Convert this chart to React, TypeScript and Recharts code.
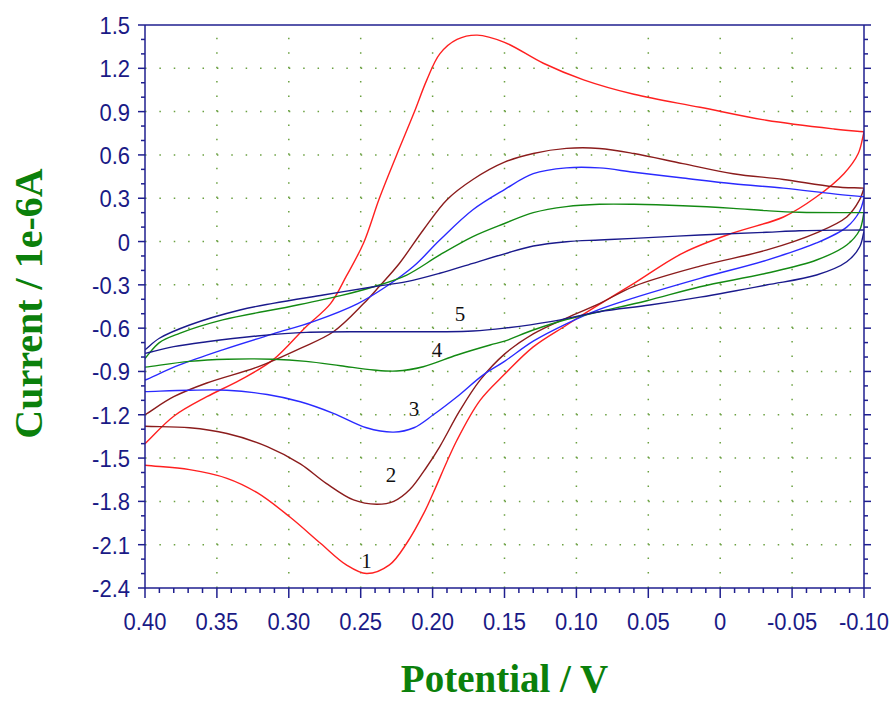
import React from "react";
import { LineChart, Line, XAxis, YAxis, ReferenceLine, ReferenceDot, Label } from "recharts";

// potential (V) / current (1e-6 A) pairs
// forward scan 0.40 -> -0.10, then the return scan -0.10 -> 0.40
const curve1Fwd: [number, number][] = [
  [0.4, -1.55], [0.369, -1.58], [0.343, -1.64], [0.322, -1.74], [0.299, -1.91],
  [0.278, -2.09], [0.26, -2.24], [0.246, -2.3], [0.23, -2.24], [0.218, -2.09],
  [0.206, -1.88], [0.1995, -1.74], [0.183, -1.375], [0.167, -1.1], [0.15, -0.92],
  [0.13, -0.73], [0.107, -0.58], [0.088, -0.46], [0.06, -0.29], [0.026, -0.08],
  [-0.009, 0.06], [-0.044, 0.17], [-0.067, 0.31], [-0.086, 0.47], [-0.096, 0.61],
  [-0.1, 0.76],
];
const curve1Rev: [number, number][] = [
  [-0.1, 0.76], [-0.079, 0.78], [-0.032, 0.84], [0.014, 0.93], [0.06, 1.02],
  [0.095, 1.12], [0.123, 1.235], [0.15, 1.38], [0.169, 1.43], [0.183, 1.4],
  [0.195, 1.3], [0.204, 1.12], [0.213, 0.89], [0.225, 0.6], [0.237, 0.3],
  [0.248, -0.01], [0.26, -0.24], [0.271, -0.43], [0.288, -0.59], [0.311, -0.82],
  [0.334, -0.96], [0.357, -1.075], [0.38, -1.21], [0.4, -1.4],
];
const curve2Fwd: [number, number][] = [
  [0.4, -1.28], [0.369, -1.29], [0.343, -1.33], [0.315, -1.42], [0.292, -1.54],
  [0.274, -1.675], [0.255, -1.79], [0.239, -1.82], [0.227, -1.8], [0.216, -1.72],
  [0.204, -1.56], [0.195, -1.42], [0.181, -1.17], [0.167, -0.96], [0.15, -0.78],
  [0.13, -0.64], [0.107, -0.53], [0.084, -0.43], [0.06, -0.31], [0.014, -0.17],
  [-0.032, -0.06], [-0.067, 0.06], [-0.088, 0.17], [-0.097, 0.29], [-0.1, 0.37],
];
const curve2Rev: [number, number][] = [
  [-0.1, 0.37], [-0.079, 0.38], [-0.044, 0.43], [-0.009, 0.47], [0.026, 0.54],
  [0.06, 0.61], [0.084, 0.645], [0.107, 0.645], [0.13, 0.61], [0.15, 0.55],
  [0.172, 0.43], [0.19, 0.29], [0.2065, 0.08], [0.223, -0.15], [0.237, -0.31],
  [0.248, -0.43], [0.269, -0.625], [0.292, -0.74], [0.322, -0.87], [0.357, -0.98],
  [0.38, -1.075], [0.4, -1.2],
];
const curve3Fwd: [number, number][] = [
  [0.4, -1.04], [0.369, -1.03], [0.343, -1.03], [0.315, -1.06], [0.292, -1.11],
  [0.269, -1.19], [0.246, -1.29], [0.227, -1.32], [0.213, -1.29], [0.1995, -1.2],
  [0.183, -1.075], [0.165, -0.925], [0.15, -0.83], [0.13, -0.69], [0.107, -0.57],
  [0.084, -0.47], [0.06, -0.39], [0.014, -0.255], [-0.032, -0.13], [-0.067, -0.01],
  [-0.088, 0.1], [-0.097, 0.21], [-0.1, 0.3],
];
const curve3Rev: [number, number][] = [
  [-0.1, 0.31], [-0.079, 0.33], [-0.044, 0.37], [-0.009, 0.4], [0.026, 0.44],
  [0.06, 0.48], [0.084, 0.51], [0.107, 0.51], [0.13, 0.47], [0.15, 0.36],
  [0.172, 0.22], [0.195, 0.01], [0.213, -0.17], [0.232, -0.31], [0.252, -0.43],
  [0.283, -0.555], [0.311, -0.64], [0.346, -0.75], [0.376, -0.855], [0.4, -0.96],
];
const curve4Fwd: [number, number][] = [
  [0.4, -0.87], [0.369, -0.83], [0.343, -0.815], [0.311, -0.815], [0.288, -0.83],
  [0.264, -0.86], [0.241, -0.89], [0.225, -0.897], [0.2065, -0.867], [0.183, -0.786],
  [0.16, -0.717], [0.15, -0.69], [0.13, -0.613], [0.107, -0.54], [0.084, -0.486],
  [0.051, -0.41], [0.014, -0.313], [-0.032, -0.22], [-0.067, -0.128], [-0.088, -0.024],
  [-0.097, 0.08], [-0.1, 0.2],
];
const curve4Rev: [number, number][] = [
  [-0.1, 0.2], [-0.055, 0.203], [-0.032, 0.214], [-0.009, 0.23], [0.026, 0.248],
  [0.06, 0.258], [0.084, 0.258], [0.107, 0.242], [0.13, 0.2], [0.15, 0.125],
  [0.172, 0.034], [0.195, -0.093], [0.218, -0.232], [0.241, -0.313], [0.264, -0.375],
  [0.299, -0.45], [0.346, -0.543], [0.376, -0.636], [0.39, -0.7], [0.4, -0.81],
];
const curve5Fwd: [number, number][] = [
  [0.4, -0.775], [0.38, -0.728], [0.357, -0.694], [0.322, -0.654], [0.288, -0.629],
  [0.241, -0.625], [0.195, -0.625], [0.172, -0.62], [0.15, -0.6], [0.118, -0.555],
  [0.084, -0.486], [0.049, -0.44], [0.014, -0.385], [-0.032, -0.301], [-0.067, -0.232],
  [-0.088, -0.14], [-0.097, -0.036], [-0.1, 0.07],
];
const curve5Rev: [number, number][] = [
  [-0.1, 0.08], [-0.055, 0.075], [-0.032, 0.064], [0.014, 0.045], [0.06, 0.022],
  [0.084, 0.011], [0.107, -0.001], [0.13, -0.031], [0.15, -0.085], [0.172, -0.151],
  [0.195, -0.22], [0.218, -0.278], [0.241, -0.313], [0.276, -0.37], [0.311, -0.428],
  [0.334, -0.474], [0.369, -0.578], [0.39, -0.67], [0.4, -0.75],
];

const curveColors = ["#ff2020", "#8b1c1c", "#2a2aff", "#138a13", "#1a1a8c"];
const curveScans = [
  [curve1Fwd, curve1Rev],
  [curve2Fwd, curve2Rev],
  [curve3Fwd, curve3Rev],
  [curve4Fwd, curve4Rev],
  [curve5Fwd, curve5Rev],
];

// curve number labels
const curveNames = ["1", "2", "3", "4", "5"];
const curveLabelV = [0.246, 0.229, 0.213, 0.197, 0.181];
const curveLabelI = [-2.21, -1.62, -1.16, -0.75, -0.505];

// axes
const xMajor = [0.4, 0.35, 0.3, 0.25, 0.2, 0.15, 0.1, 0.05, 0, -0.05, -0.1];
const xTickLabels = ["0.40", "0.35", "0.30", "0.25", "0.20", "0.15", "0.10", "0.05", "0", "-0.05", "-0.10"];
const yMajor = [1.5, 1.2, 0.9, 0.6, 0.3, 0, -0.3, -0.6, -0.9, -1.2, -1.5, -1.8, -2.1, -2.4];
const yTickLabels = ["1.5", "1.2", "0.9", "0.6", "0.3", "0", "-0.3", "-0.6", "-0.9", "-1.2", "-1.5", "-1.8", "-2.1", "-2.4"];
const xMinor = Array.from({ length: 51 }, (_, k) => (40 - k) / 100);
const yMinor = Array.from({ length: 40 }, (_, k) => (15 - k) / 10);

const AXIS = "#1f1f8f";
const TICK_TEXT = "#1a1a86";
const TITLE = "#0b800b";
const GRID = "#6aa040";
const SANS = "Liberation Sans, Arial, sans-serif";
const SERIF = "Liberation Serif, Times New Roman, serif";

// centripetal catmull-rom, so the steep parts of each scan stay smooth
function catmullRom(ctx: any) {
  let pts: number[][] = [];
  return {
    areaStart() {},
    areaEnd() {},
    lineStart() {
      pts = [];
    },
    point(x: number, y: number) {
      pts.push([+x, +y]);
    },
    lineEnd() {
      if (!pts.length) return;
      ctx.moveTo(pts[0][0], pts[0][1]);
      for (let k = 0; k < pts.length - 1; k++) {
        const p0 = pts[k - 1] || pts[k];
        const p1 = pts[k];
        const p2 = pts[k + 1];
        const p3 = pts[k + 2] || pts[k + 1];
        const d01 = Math.hypot(p1[0] - p0[0], p1[1] - p0[1]);
        const d12 = Math.hypot(p2[0] - p1[0], p2[1] - p1[1]);
        const d23 = Math.hypot(p3[0] - p2[0], p3[1] - p2[1]);
        const l01a = Math.sqrt(d01), l12a = Math.sqrt(d12), l23a = Math.sqrt(d23);
        let c1x = p1[0], c1y = p1[1], c2x = p2[0], c2y = p2[1];
        if (l01a > 1e-6) {
          const a = 2 * d01 + 3 * l01a * l12a + d12;
          const n = 3 * l01a * (l01a + l12a);
          c1x = (p1[0] * a - p0[0] * d12 + p2[0] * d01) / n;
          c1y = (p1[1] * a - p0[1] * d12 + p2[1] * d01) / n;
        } else {
          c1x = p1[0] + (p2[0] - p1[0]) / 3;
          c1y = p1[1] + (p2[1] - p1[1]) / 3;
        }
        if (l23a > 1e-6) {
          const b = 2 * d23 + 3 * l23a * l12a + d12;
          const m = 3 * l23a * (l23a + l12a);
          c2x = (p2[0] * b + p1[0] * d23 - p3[0] * d12) / m;
          c2y = (p2[1] * b + p1[1] * d23 - p3[1] * d12) / m;
        } else {
          c2x = p2[0] - (p2[0] - p1[0]) / 3;
          c2y = p2[1] - (p2[1] - p1[1]) / 3;
        }
        ctx.bezierCurveTo(c1x, c1y, c2x, c2y, p2[0], p2[1]);
      }
    },
  };
}

const findIdx = (arr: number[], v: number) => arr.findIndex((m) => Math.abs(m - v) < 1e-6);

function XTick(props: any) {
  const { x, y, payload, side } = props;
  const idx = findIdx(xMajor, payload.value);
  const len = idx >= 0 ? 10 : 5;
  const dir = side === "bottom" ? 1 : -1;
  return (
    <g>
      <line x1={x} y1={y} x2={x} y2={y + dir * len} stroke={AXIS} strokeWidth={1.5} />
      {idx >= 0 && side === "bottom" && (
        <text transform={`translate(${x},${y + 42}) scale(1,1.12)`} textAnchor="middle"
          fill={TICK_TEXT} fontSize={22} fontFamily={SANS}>
          {xTickLabels[idx]}
        </text>
      )}
    </g>
  );
}

function YTick(props: any) {
  const { x, y, payload, side } = props;
  const idx = findIdx(yMajor, payload.value);
  const len = idx >= 0 ? 7 : 4;
  const dir = side === "left" ? -1 : 1;
  return (
    <g>
      <line x1={x} y1={y} x2={x + dir * len} y2={y} stroke={AXIS} strokeWidth={1.5} />
      {idx >= 0 && side === "left" && (
        <text transform={`translate(${x - 15},${y + 9}) scale(1,1.12)`} textAnchor="end"
          fill={TICK_TEXT} fontSize={22} fontFamily={SANS}>
          {yTickLabels[idx]}
        </text>
      )}
    </g>
  );
}

export default function App() {
  return (
    <div style={{ position: "absolute", left: 0, top: 0, width: 894, height: 701, background: "#fff" }}>
      <LineChart width={894} height={701} margin={{ top: 13, right: 18, bottom: 73, left: 85 }}>
        <XAxis
          dataKey="v"
          type="number"
          domain={[-0.1, 0.4]}
          reversed
          allowDataOverflow
          ticks={xMinor}
          interval={0}
          height={40}
          tickSize={0}
          tickMargin={0}
          stroke={AXIS}
          strokeWidth={1.5}
          tick={(p: any) => <XTick {...p} side="bottom" />}
        >
          <Label
            content={({ viewBox }: any) => (
              <text x={viewBox.x + viewBox.width / 2} y={viewBox.y + 104} textAnchor="middle"
                fill={TITLE} fontSize={39} fontWeight="bold" fontFamily={SERIF}>
                Potential / V
              </text>
            )}
          />
        </XAxis>
        <XAxis
          xAxisId="top"
          orientation="top"
          type="number"
          domain={[-0.1, 0.4]}
          reversed
          allowDataOverflow
          ticks={xMinor}
          interval={0}
          height={12}
          tickSize={0}
          tickMargin={0}
          stroke={AXIS}
          strokeWidth={1.5}
          tick={(p: any) => <XTick {...p} side="top" />}
        />
        <YAxis
          type="number"
          domain={[-2.4, 1.5]}
          allowDataOverflow
          ticks={yMinor}
          interval={0}
          width={60}
          tickSize={0}
          tickMargin={0}
          stroke={AXIS}
          strokeWidth={1.5}
          tick={(p: any) => <YTick {...p} side="left" />}
        >
          <Label
            content={({ viewBox }: any) => {
              const cx = viewBox.x - 43;
              const cy = viewBox.y + viewBox.height / 2 - 3;
              return (
                <text x={cx} y={cy} transform={`rotate(-90 ${cx} ${cy})`} textAnchor="middle"
                  fill={TITLE} fontSize={40} fontWeight="bold" fontFamily={SERIF}>
                  Current / 1e-6A
                </text>
              );
            }}
          />
        </YAxis>
        <YAxis
          yAxisId="right"
          orientation="right"
          type="number"
          domain={[-2.4, 1.5]}
          allowDataOverflow
          ticks={yMinor}
          interval={0}
          width={12}
          tickSize={0}
          tickMargin={0}
          stroke={AXIS}
          strokeWidth={1.5}
          tick={(p: any) => <YTick {...p} side="right" />}
        />

        {xMajor.slice(1, -1).map((v) => (
          <ReferenceLine key={`gx${v}`} x={v} stroke={GRID} strokeWidth={1.5} strokeDasharray="1.5 12.94" />
        ))}
        {yMajor.slice(1, -1).map((v) => (
          <ReferenceLine key={`gy${v}`} y={v} stroke={GRID} strokeWidth={1.5} strokeDasharray="1.5 12.88" />
        ))}

        {curveScans.map((scans, ci) =>
          scans.map((scan, si) => (
            <Line
              key={`c${ci}s${si}`}
              data={scan.map(([v, i]) => ({ v, i }))}
              dataKey="i"
              type={catmullRom as any}
              stroke={curveColors[ci]}
              strokeWidth={1.4}
              dot={false}
              activeDot={false}
              isAnimationActive={false}
            />
          ))
        )}

        {curveNames.map((name, k) => (
          <ReferenceDot
            key={`lbl${name}`}
            x={curveLabelV[k]}
            y={curveLabelI[k]}
            r={0}
            shape={(p: any) => (
              <text x={p.cx} y={p.cy + 7} textAnchor="middle" fill="#111" fontSize={21} fontFamily={SERIF}>
                {name}
              </text>
            )}
          />
        ))}
      </LineChart>
    </div>
  );
}
